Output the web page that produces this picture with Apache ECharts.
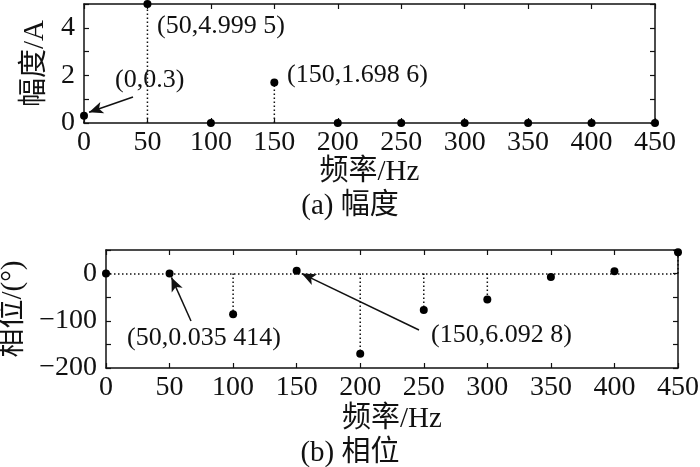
<!DOCTYPE html>
<html>
<head>
<meta charset="utf-8">
<script src="https://cdn.jsdelivr.net/npm/echarts@6/dist/echarts.min.js"></script>
<style>
  html, body { margin: 0; padding: 0; background: #fff; }
  #chart { width: 700px; height: 467px; }
</style>
</head>
<body>
<div id="chart"></div>
<script>
// 频率（横轴）
var freqs = [0, 50, 100, 150, 200, 250, 300, 350, 400, 450]
// 幅度/A
var amps = [0.3, 4.9995, 0, 1.6986, 0, 0, 0, 0, 0, 0]
// 相位/(°)
var phases = [0, 0.035414, -86, 6.0928, -170, -77, -55, -7, 5, 45]

var font = "'Liberation Serif', 'Noto Sans CJK SC', serif"
var black = '#111'
var fs = 26 // 标注文字
var tickFs = 28 // 刻度
var nameFs = 29 // 轴名、图题

var ampData = freqs.map(function (f, i) { return [f, amps[i]] })
var phaseData = freqs.map(function (f, i) { return [f, phases[i]] })

// 竖直虚线（针状）
var stemItem = function (params, api) {
  var top = api.coord([api.value(0), api.value(1)])
  var base = api.coord([api.value(0), 0])
  return {
    type: 'line',
    shape: { x1: base[0], y1: base[1], x2: top[0], y2: top[1] },
    style: { stroke: black, lineWidth: 1.5, lineDash: [1.5, 2.5] }
  }
}

var labelFmt = function (step) {
  return function (v) {
    return v % step === 0 ? String(v).replace('-', '\u2212') : ''
  }
}

var baseX = function (grid, pos, show) {
  return {
    type: 'value', gridIndex: grid, position: pos, min: 0, max: 450, interval: 50,
    axisLine: { show: true, onZero: false, lineStyle: { color: black, width: 1.5 } },
    axisTick: { show: true, inside: true, length: 5, lineStyle: { color: black, width: 1.2 } },
    axisLabel: { show: show, color: black, fontFamily: font, fontSize: tickFs, margin: 6 },
    splitLine: { show: false }
  }
}
var baseY = function (grid, pos, show, min, max, interval, step) {
  return {
    type: 'value', gridIndex: grid, position: pos, min: min, max: max, interval: interval,
    axisLine: { show: true, onZero: false, lineStyle: { color: black, width: 1.5 } },
    axisTick: { show: true, inside: true, length: 5, lineStyle: { color: black, width: 1.2 } },
    axisLabel: { show: show, color: black, fontFamily: font, fontSize: tickFs, margin: 9, formatter: labelFmt(step) },
    splitLine: { show: false }
  }
}

var xTop = baseX(0, 'bottom', true)
xTop.name = '频率/Hz'
xTop.nameLocation = 'middle'
xTop.nameGap = 35
xTop.nameTextStyle = { color: black, fontFamily: font, fontSize: nameFs }
var xBot = baseX(1, 'bottom', true)
xBot.name = '频率/Hz'
xBot.nameLocation = 'middle'
xBot.nameGap = 37
xBot.nameTextStyle = { color: black, fontFamily: font, fontSize: nameFs }

var yTop = baseY(0, 'left', true, 0, 5, 1, 2)
yTop.name = '幅度/A'
yTop.nameLocation = 'middle'
yTop.nameGap = 33
yTop.nameTextStyle = { color: black, fontFamily: font, fontSize: nameFs }
var yBot = baseY(1, 'left', true, -200, 50, 50, 100)
yBot.name = '相位/(°)'
yBot.nameLocation = 'middle'
yBot.nameGap = 72
yBot.nameTextStyle = { color: black, fontFamily: font, fontSize: nameFs }

var arrowLine = { color: black, width: 1.5, type: 'solid' }
var dotStyle = { color: '#000', opacity: 1 }

var option = {
  animation: false,
  backgroundColor: '#fff',
  grid: [
    { left: 84, right: 45, top: 4, height: 119, outerBoundsMode: 'none' },
    { left: 106, right: 22, top: 250, height: 118, outerBoundsMode: 'none' }
  ],
  xAxis: [xTop, baseX(0, 'top', false), xBot, baseX(1, 'top', false)],
  yAxis: [yTop, baseY(0, 'right', false, 0, 5, 1, 2), yBot, baseY(1, 'right', false, -200, 50, 50, 100)],
  series: [
    {
      type: 'custom', xAxisIndex: 0, yAxisIndex: 0, renderItem: stemItem,
      data: ampData, clip: false, silent: true, z: 2
    },
    {
      type: 'scatter', xAxisIndex: 0, yAxisIndex: 0, data: ampData, symbolSize: 8,
      itemStyle: dotStyle, clip: false, z: 5,
      markLine: {
        silent: true, symbol: ['none', 'arrow'], symbolSize: [9, 14],
        label: { show: false }, lineStyle: arrowLine,
        data: [[{ x: 133, y: 97 }, { coord: [4, 0.3 + 0.15] }]]
      }
    },
    {
      type: 'custom', xAxisIndex: 2, yAxisIndex: 2, renderItem: stemItem,
      data: phaseData, clip: false, silent: true, z: 2
    },
    {
      type: 'scatter', xAxisIndex: 2, yAxisIndex: 2, data: phaseData, symbolSize: 8,
      itemStyle: dotStyle, clip: false, z: 5,
      markLine: {
        silent: true, symbol: ['none', 'none'], label: { show: false },
        lineStyle: { color: black, width: 1.5, type: [1.5, 2.5] },
        data: [{ yAxis: 0 }]
      }
    },
    {
      type: 'line', xAxisIndex: 2, yAxisIndex: 2, data: [], silent: true,
      markLine: {
        silent: true, symbol: ['none', 'arrow'], symbolSize: [9, 14],
        label: { show: false }, lineStyle: arrowLine,
        data: [
          [{ x: 191, y: 321 }, { coord: [51.5, -8] }],
          [{ x: 419, y: 330 }, { coord: [154, 0] }]
        ]
      }
    }
  ],
  graphic: [
    { type: 'text', left: 157, top: 13, style: { text: '(50,4.999 5)', font: fs + 'px ' + font, fill: black } },
    { type: 'text', left: 115, top: 67, style: { text: '(0,0.3)', font: fs + 'px ' + font, fill: black } },
    { type: 'text', left: 287, top: 62, style: { text: '(150,1.698 6)', font: fs + 'px ' + font, fill: black } },
    { type: 'text', left: 127, top: 325, style: { text: '(50,0.035 414)', font: fs + 'px ' + font, fill: black } },
    { type: 'text', left: 431, top: 322, style: { text: '(150,6.092 8)', font: fs + 'px ' + font, fill: black } },
    { type: 'text', left: 'center', top: 192, style: { text: '(a) 幅度', font: nameFs + 'px ' + font, fill: black } },
    { type: 'text', left: 'center', top: 439, style: { text: '(b) 相位', font: nameFs + 'px ' + font, fill: black } }
  ]
}

var myChart = echarts.init(document.getElementById('chart'))
myChart.setOption(option)
</script>
</body>
</html>
